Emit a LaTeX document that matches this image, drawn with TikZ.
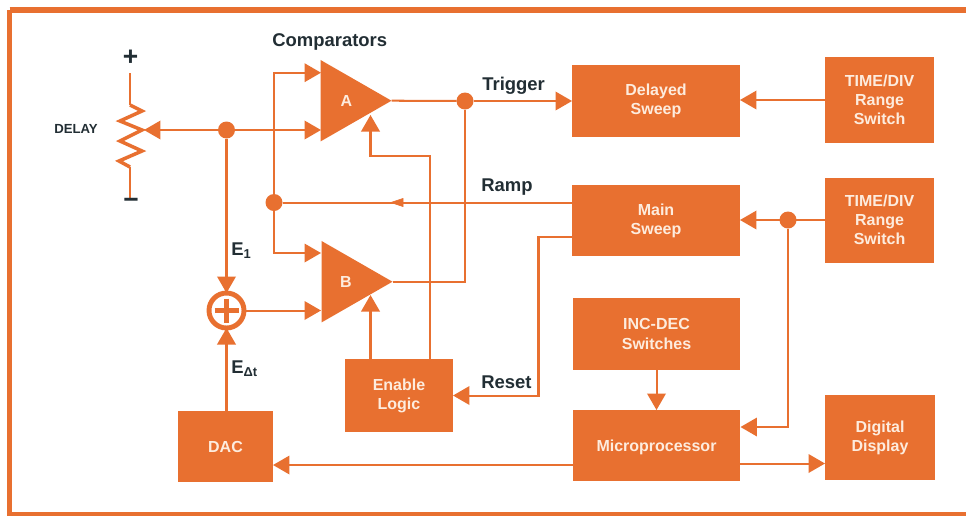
\documentclass[tikz,border=0pt]{standalone}
\usepackage{fontspec}
\setmainfont{Liberation Sans}
\usetikzlibrary{arrows.meta,shapes.geometric}
\definecolor{hporange}{RGB}{232,112,48}
\definecolor{hpcream}{RGB}{253,236,222}
\definecolor{hpink}{RGB}{34,46,52}
\tikzset{
  wire/.style={hporange, line width=1.15pt},
  flow/.style={wire, -{Triangle[length=0.33cm,width=0.37cm]}},
  blockbox/.style={fill=hporange, draw=none, align=center, inner sep=0pt, outer sep=0pt, text=hpcream,
    font=\bfseries\fontsize{9.1}{10.9}\selectfont},
  comparator/.style={isosceles triangle, isosceles triangle stretches, shape border rotate=0,
    fill=hporange, draw=none, inner sep=0pt, outer sep=0pt, minimum width=1.63cm, minimum height=1.42cm, anchor=apex},
  junction/.style={circle, fill=hporange, inner sep=0pt, outer sep=0pt, minimum size=0.34cm},
  sumring/.style={circle, draw=hporange, line width=2.8pt, fill=white, inner sep=0pt, outer sep=0pt, minimum size=0.7cm},
  sigtext/.style={text=hpink, inner sep=0pt, font=\bfseries\fontsize{10.5}{12}\selectfont},
}
\begin{document}
\begin{tikzpicture}[x=0.02cm,y=-0.02cm]
                \useasboundingbox (0,0) rectangle (966,515);
                \fill[white] (0,0) rectangle (966,515);

                %% frame
                \draw[hporange, line width=3.8pt] (9.5,10) -- (966,10);
                \draw[hporange, line width=3.4pt] (9.5,10) -- (9.5,514.5);
                \draw[hporange, line width=3pt] (7,514.5) -- (966,514.5);

                %% blocks
                \node[blockbox, minimum width=3.36cm, minimum height=1.44cm] (delayed) at (656,101) {Delayed\\Sweep};
                \node[blockbox, minimum width=2.18cm, minimum height=1.72cm] (rangeA) at (879.5,100) {TIME/DIV\\Range\\Switch};
                \node[blockbox, minimum width=3.36cm, minimum height=1.42cm] (mainsweep) at (656,220.5) {Main\\Sweep};
                \node[blockbox, minimum width=2.18cm, minimum height=1.70cm] (rangeB) at (879.5,220) {TIME/DIV\\Range\\Switch};
                \node[blockbox, minimum width=3.36cm, minimum height=1.44cm] (incdec) at (656.5,334) {INC-DEC\\Switches};
                \node[blockbox, minimum width=3.36cm, minimum height=1.42cm, text depth=0pt] (micro) at (656.5,445.5) {Microprocessor};
                \node[blockbox, minimum width=2.20cm, minimum height=1.70cm] (display) at (880,437.5) {Digital\\Display};
                \node[blockbox, minimum width=1.90cm, minimum height=1.42cm] (dac) at (225.5,446.5) {DAC};
                \node[blockbox, minimum width=2.16cm, minimum height=1.46cm] (enable) at (399,395.5) {Enable\\Logic};

                %% comparators
                \node[comparator] (compA) at (391.5,100.7) {};
                \node[comparator] (compB) at (392.5,281.7) {};
                \node[blockbox, fill=none] (labelA) at (346.5,100.7) {A};
                \node[blockbox, fill=none] (labelB) at (346,281.7) {B};

                %% free ends
                \coordinate (potTop) at (130,73);
                \coordinate (potBot) at (130,198);
                \coordinate (wiper) at (144,130);
                \coordinate (inAtop) at (321,72.7);
                \coordinate (inAbot) at (321,130);
                \coordinate (inBtop) at (321,253);
                \coordinate (inBbot) at (321,310.5);
                \coordinate (enA) at (370.5,115);
                \coordinate (enB) at (370.5,295);

                %% junctions
                \node[junction] (nodeDelay) at (226.5,130) {};
                \node[junction] (nodeRamp) at (274,202.5) {};
                \node[junction] (nodeTrig) at (465,101) {};
                \node[junction] (nodeRange) at (788,220) {};
                \node[sumring] (summer) at (226.5,310.5) {};
                \draw[hporange, line width=2.4pt] (summer.center) ++(-12,0) -- ++(24,0);
                \draw[hporange, line width=2.4pt] (summer.center) ++(0,-12) -- ++(0,24);

                %% pot
                \draw[wire] (potTop) -- (130,105);
                \draw[hporange, line width=2pt, miter limit=10] (130,105) -- (142,111) -- (120,121) -- (142,130) -- (120,141) -- (142,151) -- (119,161) -- (130,167);
                \draw[wire] (130,167) -- (potBot);
                \draw[flow] (nodeDelay) -- (wiper);
                \draw[flow] (nodeDelay) -- (inAbot);

                %% inputs
                \draw[flow] (nodeRamp) |- (inAtop);
                \draw[flow] (nodeRamp) |- (inBtop);
                \draw[flow] (nodeDelay) -- (summer.north);
                \draw[flow] (dac.north -| summer) -- (summer.south);
                \draw[flow] (summer.east) -- (inBbot);

                %% outputs
                \draw[wire] (compA.apex) -- (nodeTrig);
                \draw[flow] (nodeTrig) -- (delayed.west |- nodeTrig);
                \draw[wire] (nodeTrig) |- (compB.apex);

                %% enable
                \draw[flow] (enable.north -| enB) -- (enB);
                \draw[flow] (enable.north -| 430,0) |- (370.5,156) -- (enA);

                %% ramp
                \draw[wire] (mainsweep.west |- nodeRamp) -- (nodeRamp);
                \draw[hporange, fill=hporange] (391,202.5) -- (403,198.5) -- (403,206.5) -- cycle;

                %% reset
                \draw[flow] (mainsweep.west |- 0,237) -- (538.5,237) |- (enable.east);

                %% right side
                \draw[flow] (rangeA.west) -- (delayed.east |- rangeA);
                \draw[flow] (rangeB.west) -- (mainsweep.east |- rangeB);
                \draw[flow] (nodeRange) |- (micro.east |- 0,427);
                \draw[flow] (incdec.south) -- (micro.north);
                \draw[flow] (micro.west |- 0,465) -- (dac.east |- 0,465);
                \draw[flow] (micro.east |- 0,463.5) -- (display.west |- 0,463.5);

                %% labels
                \node[sigtext, anchor=west] (labelComp) at (272,42) {Comparators};
                \node[sigtext, anchor=west] (labelTrig) at (482,86) {Trigger};
                \node[sigtext, anchor=west] (labelRamp) at (481,187.5) {Ramp};
                \node[sigtext, anchor=west] (labelReset) at (481,382) {Reset};
                \node[sigtext, anchor=west] (labelEa) at (231,251) {E\textsubscript{1}};
                \node[sigtext, anchor=west] (labelEb) at (231,369) {E\textsubscript{Δt}};
                \node[sigtext, font=\bfseries\fontsize{7.5}{9}\selectfont] (labelDelay) at (76,129) {DELAY};
                \node[sigtext, font=\bfseries\fontsize{15}{15}\selectfont] (labelPlus) at (130.5,57.5) {+};
                \node[sigtext, font=\bfseries\fontsize{15}{15}\selectfont] (labelMinus) at (131,203) {\textminus};
            \end{tikzpicture}
\end{document}
